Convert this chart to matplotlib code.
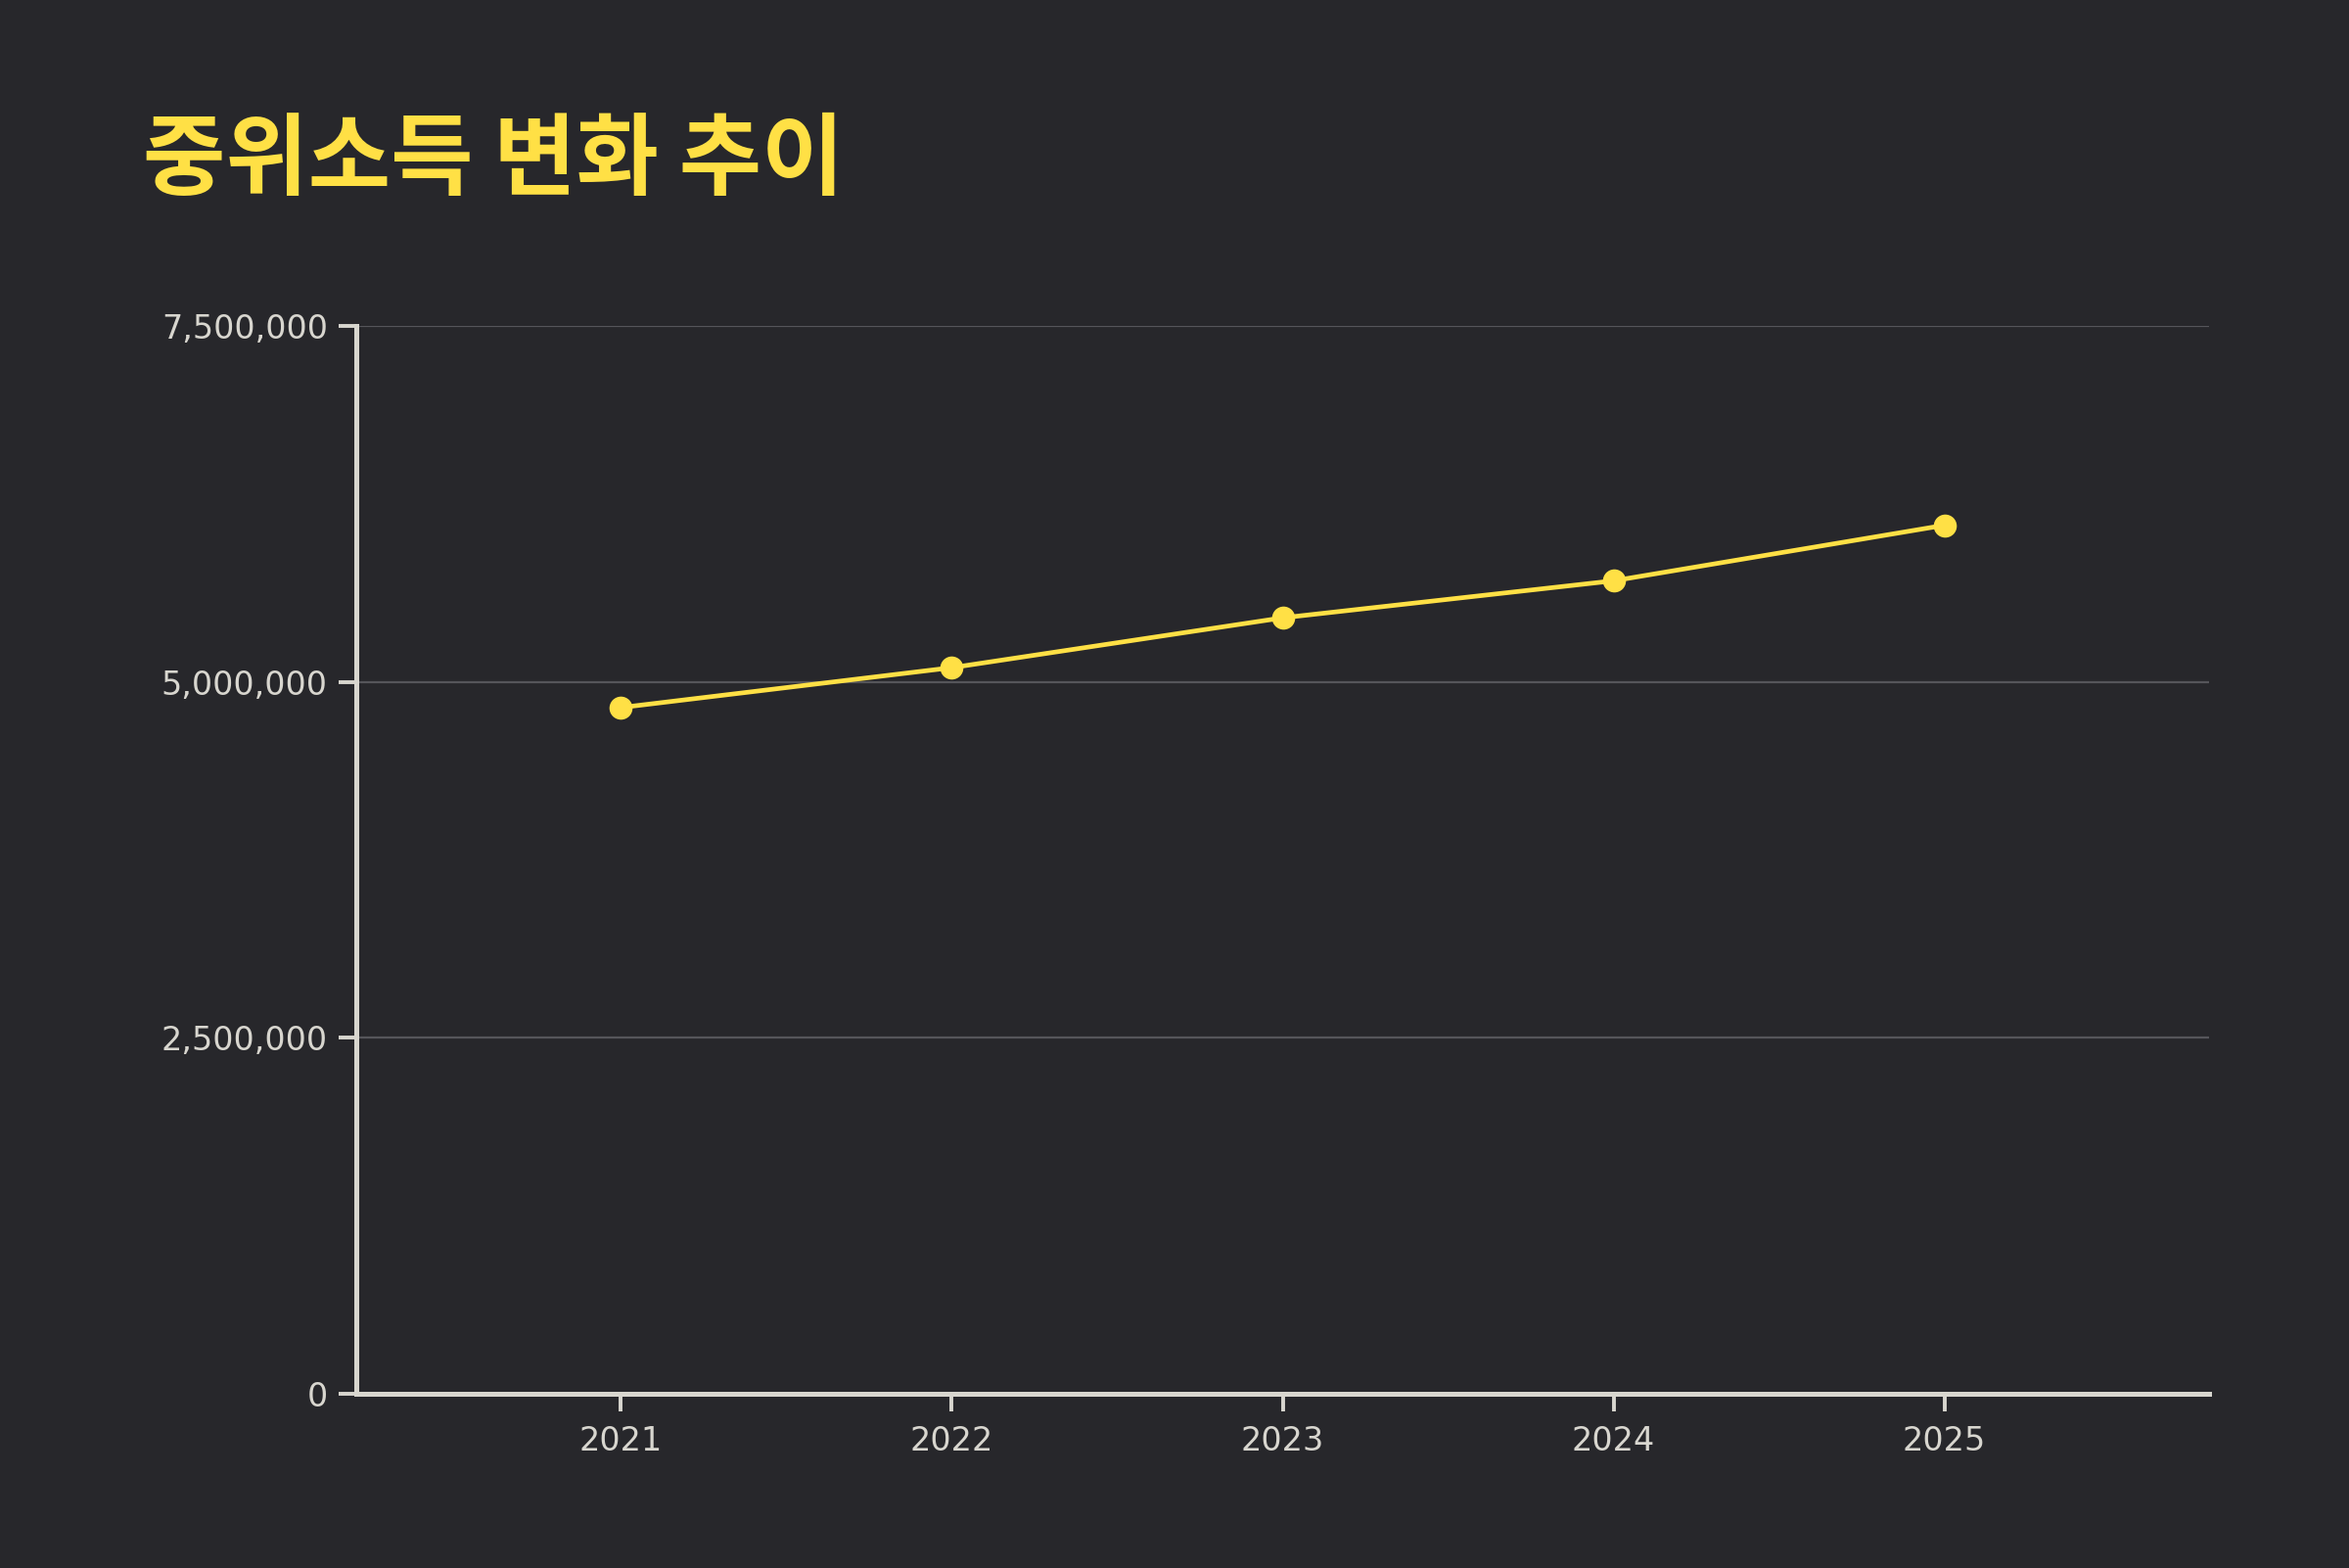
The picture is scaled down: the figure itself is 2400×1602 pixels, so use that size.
import matplotlib
matplotlib.use("Agg")
import matplotlib.pyplot as plt
from matplotlib.ticker import FuncFormatter

years = [2021, 2022, 2023, 2024, 2025]
median_income = [4820000, 5100000, 5450000, 5710000, 6100000]
y_ticks = [0, 2500000, 5000000, 7500000]
title = "중위소득 변화 추이"

BG = "#27272b"
YELLOW = "#ffe045"
AXIS = "#d8d6cf"
GRID = "#55555a"

fig = plt.figure(figsize=(12, 8.01), dpi=200)
fig.patch.set_facecolor(BG)
ax = fig.add_axes([364/2400, 178/1602, (2257-364)/2400, (1424-333)/1602])
ax.set_facecolor(BG)

ax.plot(years, median_income, color=YELLOW, lw=1.7, marker="o", ms=8.5,
        markerfacecolor=YELLOW, markeredgewidth=0, zorder=3)

ax.set_xlim(2020.2, 2025.8)
ax.set_ylim(0, 7500000)
ax.set_xticks(years)
ax.set_yticks(y_ticks)
ax.yaxis.set_major_formatter(FuncFormatter(lambda v, p: f"{int(v):,}"))

for s in ["top", "right"]:
    ax.spines[s].set_visible(False)
for s in ["left", "bottom"]:
    ax.spines[s].set_color(AXIS)
    ax.spines[s].set_linewidth(1.8)

ax.grid(axis="y", color=GRID, lw=0.8)
ax.grid(axis="x", visible=False)
ax.set_axisbelow(True)

ax.tick_params(axis="both", colors=AXIS, length=6.5, width=1.4, labelsize=12, pad=4)
ax.tick_params(axis="x", pad=5)
for lab in ax.get_xticklabels() + ax.get_yticklabels():
    lab.set_family(["DejaVu Sans"])
    lab.set_color(AXIS)

fig.text(146/2400, 1 - 118/1602, title, color=YELLOW, fontsize=33, fontweight="bold",
         family=["Noto Sans CJK KR", "DejaVu Sans"], ha="left", va="top")

fig.savefig("out.png", dpi=200, facecolor=BG)
